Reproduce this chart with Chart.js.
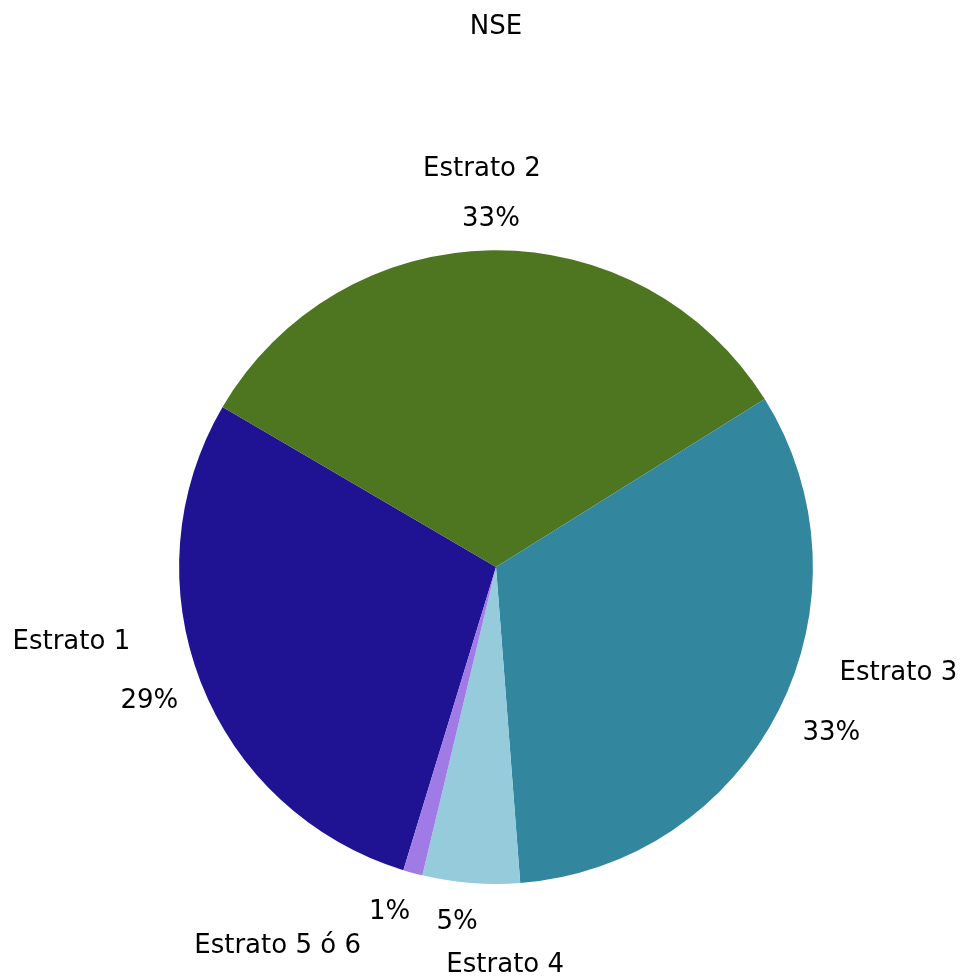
<!DOCTYPE html>
<html>
<head>
<meta charset="utf-8">
<script src="https://cdn.jsdelivr.net/npm/chart.js@4"></script>
<style>
  html, body { margin: 0; padding: 0; background: #fff; }
  #wrap { width: 963px; height: 978px; }
</style>
</head>
<body>
<div id="wrap"><canvas id="graficoNSE" width="963" height="978"></canvas></div>
<script>
// NSE — distribución por estrato (torta)
const estratos    = ['Estrato 1', 'Estrato 2', 'Estrato 3', 'Estrato 4', 'Estrato 5 ó 6'];
const porcentajes = [29, 33, 33, 5, 1];

const COLORES     = ['#1F1394', '#4E7520', '#32879E', '#95CBDB', '#A07BE5'];
const FUENTE      = '"Century Gothic", "DejaVu Sans", sans-serif';
const TEXTO_COLOR = '#000';

// Etiquetas por fuera: porcentaje pegado al borde, nombre desplazado
const etiquetasExternas = {
    id: 'etiquetasExternas',
    afterDatasetsDraw(chart, args, opts) {
        const ctx    = chart.ctx;
        const meta   = chart.getDatasetMeta(0);
        const datos  = chart.data.datasets[0].data;

        ctx.save();
        ctx.font = opts.fontSize + 'px ' + FUENTE;
        ctx.fillStyle = TEXTO_COLOR;
        ctx.textAlign = 'center';
        ctx.textBaseline = 'middle';

        meta.data.forEach((arc, i) => {
            const { x, y, startAngle, endAngle, outerRadius } =
                arc.getProps(['x', 'y', 'startAngle', 'endAngle', 'outerRadius'], true);
            const medio = (startAngle + endAngle) / 2;
            const ux = Math.cos(medio);
            const uy = Math.sin(medio);

            const pct   = datos[i] + '%';
            const medio_ancho = ctx.measureText(pct).width / 2;
            const dist  = outerRadius + opts.gap + medio_ancho * Math.abs(ux) + opts.medioAlto * Math.abs(uy);
            const [ax, ay] = opts.ajustePct[i];
            const px = x + ux * dist + ax;
            const py = y + uy * dist + ay;
            ctx.fillText(pct, px, py);

            const [dx, dy] = opts.desplazamientoNombre[i];
            ctx.fillText(chart.data.labels[i], px + dx, py + dy);
        });
        ctx.restore();
    }
};

const ctx = document.getElementById('graficoNSE').getContext('2d');

const chart = new Chart(ctx, {
    type: 'pie',
    data: {
        labels: estratos,
        datasets: [{
            data: porcentajes,
            backgroundColor: COLORES,
            borderWidth: 0,
        }]
    },
    options: {
        responsive: false,
        animation: false,
        devicePixelRatio: 1,
        rotation: 197,
        layout: {
            padding: { top: 0, left: 179, right: 150, bottom: 94 }
        },
        plugins: {
            legend: { display: false },
            tooltip: { enabled: false },
            title: {
                display: true,
                text: 'NSE',
                color: TEXTO_COLOR,
                font: { size: 26, family: FUENTE, weight: 'normal' },
                padding: { top: 12, bottom: 207 }
            },
            etiquetasExternas: {
                fontSize: 26,
                gap: 20,
                medioAlto: 14,
                ajustePct: [[-3, 0], [0, 3], [6, 0], [-11, 4], [-13, 2]],
                desplazamientoNombre: [[-78, -59], [-9, -50], [67, -60], [48, 43], [-112, 34]]
            }
        }
    },
    plugins: [etiquetasExternas]
});
</script>
</body>
</html>
